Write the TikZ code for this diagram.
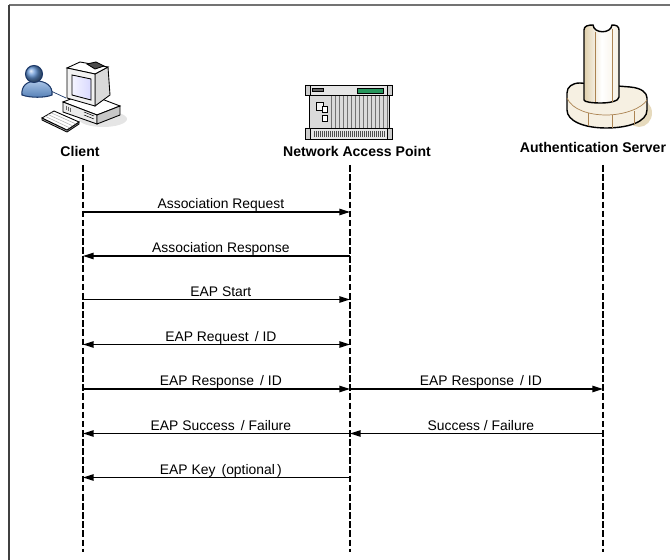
\documentclass[tikz,border=0pt]{standalone}
\usepackage{fontspec}
\setmainfont{Liberation Sans}
\usetikzlibrary{arrows.meta}

\definecolor{userblue}{RGB}{98,148,212}
\definecolor{userline}{RGB}{28,56,104}
\definecolor{cream}{RGB}{246,240,226}
\definecolor{creamdark}{RGB}{224,208,172}
\definecolor{tan}{RGB}{172,132,82}
\definecolor{rackgray}{RGB}{218,218,218}
\definecolor{lcdgreen}{RGB}{38,150,92}

\tikzset{
	lifeline/.style={line width=1pt, dash pattern=on 3.8pt off 1.4pt},
	msg/.style={line width=0.75pt, -{Triangle[length=6pt,width=3.6pt]}},
	dmsg/.style={line width=0.75pt, {Triangle[length=6pt,width=3.6pt]}-{Triangle[length=6pt,width=3.6pt]}},
	lbl/.style={midway, font=\fontsize{7.9}{9}\selectfont, text height=1.6ex, text depth=.3ex,
		inner sep=0pt, yshift=5.4pt, xshift=2.5pt},
	actor/.style={font=\bfseries\fontsize{8}{9.6}\selectfont, inner sep=0pt}
}

\begin{document}
\begin{tikzpicture}[x=0.02cm, y=-0.02cm]
	\clip (0,0) rectangle (670,560);
	% frame
	\draw[black!55, line width=1.1pt] (9,5) -- (670,5);
	\draw[black!75, line width=0.9pt] (9,5) -- (9,560);

	% client: user and pc
	\fill[black!10] (103,119) ellipse (24 and 8);
	\draw[userline, line width=0.4pt] (40,86) -- (66,98);
	\draw[userline, line width=0.6pt, top color=userblue!55!white, bottom color=userblue!85!black]
		(22,95) .. controls (21,86) and (27,81) .. (36,81) .. controls (46,81) and (53,86) .. (52,95)
		.. controls (45,98) and (30,98) .. (22,95) -- cycle;
	\draw[userline, line width=0.6pt, ball color=userblue] (34,74) circle (8.5);
	\draw[line width=0.5pt, fill=white] (63,102) -- (86,93) -- (120,106) -- (97,115) -- cycle;
	\draw[line width=0.5pt, fill=black!8] (63,102) -- (97,115) -- (97,124) -- (63,112) -- cycle;
	\draw[line width=0.5pt, fill=black!22] (97,115) -- (120,106) -- (120,115) -- (97,124) -- cycle;
	\foreach \d in {0,3} \draw[line width=0.3pt] (84,{112+\d}) -- (94,{116+\d});
	\foreach \d in {0,2,4} \draw[line width=0.3pt, black!60] ({66+\d},{106+\d*0.4}) -- ({66+\d},{110+\d*0.4});
	\draw[line width=0.5pt, fill=black!15] (95,74) -- (108,67) -- (110,95) -- (95,106) -- cycle;
	\draw[line width=0.5pt, fill=white] (67,68) -- (80,62) -- (108,67) -- (95,74) -- cycle;
	\draw[line width=0.5pt, fill=black!70] (87,64) -- (96,62) -- (104,66) -- (95,69) -- cycle;
	\draw[line width=0.5pt, fill=black!5] (67,68) -- (95,74) -- (95,106) -- (67,98) -- cycle;
	\draw[line width=0.5pt, left color=blue!4, right color=blue!15] (72,75) -- (91,79) -- (91,100) -- (72,95) -- cycle;
	\draw[line width=0.5pt, fill=black!25] (42,118) -- (42,120) -- (67,132) -- (79,124) -- (79,122) -- (67,130) -- cycle;
	\draw[line width=0.5pt, fill=white] (42,118) -- (54,111) -- (79,122) -- (67,130) -- cycle;
	\foreach \t in {0.25,0.5,0.75} \draw[black!30, line width=0.3pt] ({42+12*\t},{118-7*\t}) -- ({67+12*\t},{130-8*\t});

	% access point rack
	\draw[line width=0.5pt, fill=rackgray] (309,95) rectangle (389,128);
	\foreach \x in {331,335,...,387} \draw[black!55, line width=0.3pt] (\x,95) -- (\x,128);
	\draw[line width=0.4pt, fill=black!5] (316,102) rectangle (323,110);
	\draw[line width=0.4pt, fill=white] (322,106) rectangle (327,112);
	\draw[line width=0.4pt, fill=white] (322,115) rectangle (327,121);
	\draw[line width=0.5pt, fill=black!10] (305,85) rectangle (392,95);
	\draw[line width=0.4pt, fill=black!20] (305,85) rectangle (310,95) (387,85) rectangle (392,95);
	\draw[line width=0.4pt, fill=black!60] (312,88) rectangle (323,91);
	\draw[line width=0.4pt, fill=lcdgreen] (357,88) rectangle (383,93);
	\draw[line width=0.5pt, fill=black!10] (305,128) rectangle (392,139);
	\draw[line width=0.4pt, fill=black!20] (305,128) rectangle (310,139) (387,128) rectangle (392,139);
	\foreach \x in {314,316,...,384} \draw[black!70, line width=0.3pt] (\x,131) -- (\x,137);

	% authentication server
	\fill[creamdark!80] (639,113) ellipse (13 and 14);
	\draw[line width=0.8pt, fill=cream] (567,110) -- (567,93) .. controls (567,87) and (572,83) .. (580,83)
		-- (630,87) .. controls (642,88) and (647,93) .. (647,98) -- (647,110)
		.. controls (647,122) and (628,128) .. (606,128) .. controls (584,128) and (567,121) .. (567,110) -- cycle;
	\draw[tan, line width=0.4pt] (567,98) .. controls (572,110) and (590,115) .. (606,115)
		.. controls (625,115) and (642,108) .. (647,100);
	\foreach \x/\y in {588/113,612/115,634/111} \draw[tan, line width=0.4pt] (\x,\y) -- (\x,{\y+13});
	\draw[line width=0.8pt, left color=creamdark, right color=cream, middle color=white]
		(584,100) -- (584,30) .. controls (584,26) and (588,25) .. (593,25)
		.. controls (594,34) and (611,34) .. (612,25) .. controls (616,25) and (619,26) .. (619,30)
		-- (619,97) .. controls (619,101) and (610,103) .. (601,103) .. controls (592,103) and (584,102) .. (584,100) -- cycle;
	\draw[tan, line width=0.4pt] (595,32) -- (595,102) (612,29) -- (612,102);

	% lifelines
	\coordinate (cli) at (83,165);
	\coordinate (nap) at (350,165);
	\coordinate (aut) at (603,165);
	\coordinate (end) at (0,552);
	\node[actor] (cli label) at (80,151) {Client};
	\node[actor] (nap label) at (357,151) {Network Access Point};
	\node[actor] (aut label) at (593,147) {Authentication Server};
	\draw[lifeline] (cli) -- (cli |- end);
	\draw[lifeline] (nap) -- (nap |- end);
	\draw[lifeline] (aut) -- (aut |- end);

	% messages
	\coordinate (m1) at (0,212);
	\coordinate (m2) at (0,256);
	\coordinate (m3) at (0,299.5);
	\coordinate (m4) at (0,344.5);
	\coordinate (m5) at (0,389);
	\coordinate (m6) at (0,433.5);
	\coordinate (m7) at (0,477.5);
	\draw[msg] (cli |- m1) -- node[lbl] {Association Request} (nap |- m1);
	\draw[msg] (nap |- m2) -- node[lbl] {Association Response} (cli |- m2);
	\draw[msg] (cli |- m3) -- node[lbl] {EAP Start} (nap |- m3);
	\draw[dmsg] (cli |- m4) -- node[lbl] {EAP Request\,\ / ID} (nap |- m4);
	\draw[msg] (cli |- m5) -- node[lbl] {EAP Response\,\ / ID} (nap |- m5);
	\draw[msg] (nap |- m5) -- node[lbl] {EAP Response\,\ / ID} (aut |- m5);
	\draw[msg] (aut |- m6) -- node[lbl] {Success / Failure} (nap |- m6);
	\draw[msg] (nap |- m6) -- node[lbl] {EAP Success\,\ / Failure} (cli |- m6);
	\draw[msg] (nap |- m7) -- node[lbl] {EAP Key\,\ (optional\,)} (cli |- m7);
\end{tikzpicture}
\end{document}
